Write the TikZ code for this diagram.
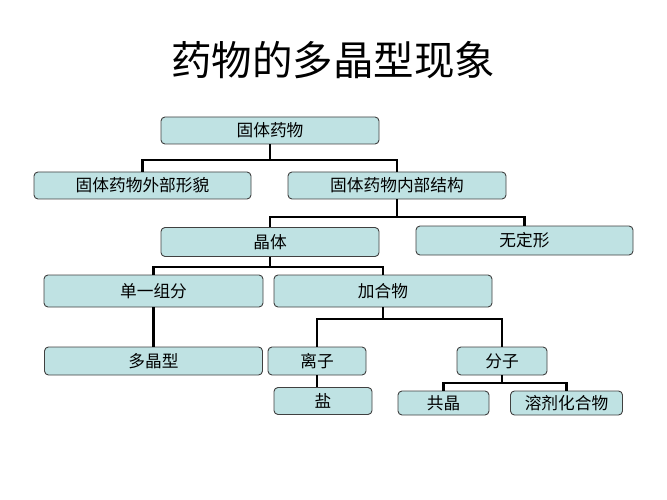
\documentclass[tikz,border=0pt]{standalone}
\usepackage{fontspec}
\setmainfont{Noto Sans CJK SC}
\usetikzlibrary{positioning,calc}
\definecolor{boxfill}{HTML}{BFE2E3}
\definecolor{boxline}{HTML}{404040}
\tikzset{
  box/.style={rectangle, rounded corners=4pt, draw=boxline, line width=0.9pt, fill=boxfill,
              inner sep=0pt, align=center, font=\fontsize{16.7}{19}\selectfont},
  link/.style={line width=2.2pt, draw=black},
  ttl/.style={font=\fontsize{40.5}{46}\selectfont},
}
\begin{document}
\begin{tikzpicture}[x=1pt,y=-1pt]
\useasboundingbox (0,0) rectangle (667,500);
\node[ttl] (title) at (333,60) {药物的多晶型现象};
% level 1 and 2
\node[box, minimum width=218pt, minimum height=27pt] (gt) at (270,130.5) {固体药物};
\node[box, minimum width=217pt, minimum height=27pt] (wb) at (142.5,185.5) {固体药物外部形貌};
\node[box, minimum width=218pt, minimum height=27pt] (nb) at (397,185.5) {固体药物内部结构};
% level 3
\node[box, minimum width=218pt, minimum height=29pt] (jt) at (270,242) {晶体};
\node[box, minimum width=217pt, minimum height=29pt] (wdx) at (524.5,240.5) {无定形};
% level 4
\node[box, minimum width=219pt, minimum height=32pt] (dy) at (153.5,291) {单一组分};
\node[box, minimum width=218pt, minimum height=32pt] (jh) at (383,291) {加合物};
% level 5
\node[box, minimum width=218pt, minimum height=28pt] (djx) at (153.5,361) {多晶型};
\node[box, minimum width=98pt, minimum height=28pt] (lz) at (317,361) {离子};
\node[box, minimum width=90pt, minimum height=28pt] (fz) at (502,361) {分子};
% level 6
\node[box, minimum width=98pt, minimum height=27pt] (yan) at (323,401) {盐};
\node[box, minimum width=91pt, minimum height=24pt] (gj) at (443.5,403) {共晶};
\node[box, minimum width=112pt, minimum height=24pt] (rj) at (566.5,403) {溶剂化合物};
% junctions
\coordinate (j1) at (270,160);
\coordinate (j2) at (397,217);
\coordinate (j3) at (270,267);
\coordinate (j4) at (383,319);
\coordinate (j5) at (502,383);
% connectors
\draw[link] (gt.south) -- (j1);
\draw[link] (wb.north) |- (j1) -| (nb.north);
\draw[link] (nb.south) -- (j2);
\draw[link] (jt.north) |- (j2) -| (wdx.north);
\draw[link] (jt.south) -- (j3);
\draw[link] (dy.north) |- (j3) -| (jh.north);
\draw[link] (dy.south) -- (djx.north);
\draw[link] (jh.south) -- (j4);
\draw[link] (lz.north) |- (j4) -| (fz.north);
\draw[link] (lz.south) -- (lz.south |- yan.north);
\draw[link] (fz.south) -- (j5);
\draw[link] (gj.north) |- (j5) -| (rj.north);
\end{tikzpicture}
\end{document}
